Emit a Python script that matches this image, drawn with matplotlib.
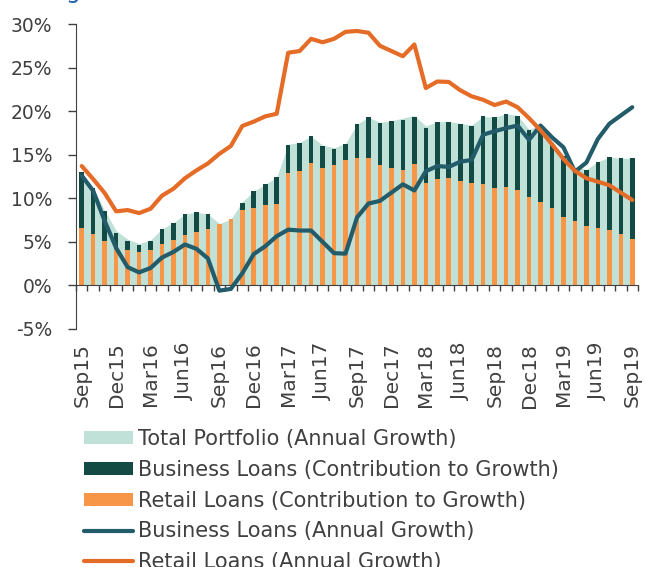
import numpy as np
import matplotlib
matplotlib.use("Agg")
import matplotlib.pyplot as plt
import matplotlib.transforms as mtransforms
from matplotlib.patches import Patch
from matplotlib.lines import Line2D

#### Datos (Sep15 - Sep19, mensual) ####
tick_labels = ["Sep15", "Dec15", "Mar16", "Jun16", "Sep16", "Dec16", "Mar17", "Jun17", "Sep17",
               "Dec17", "Mar18", "Jun18", "Sep18", "Dec18", "Mar19", "Jun19", "Sep19"]

total_growth = [13.0, 11.2, 8.6, 6.3, 5.3, 4.8, 5.2, 6.5, 7.2, 8.2, 8.4, 8.2,
                7.1, 7.6, 9.6, 10.8, 11.6, 12.4, 16.2, 16.4, 17.1, 16.1, 15.8, 16.3,
                18.5, 19.3, 18.7, 18.9, 19.2, 19.5, 18.3, 18.8, 18.8, 18.6, 18.4, 19.4,
                19.3, 19.7, 19.5, 17.9, 18.4, 16.5, 15.0, 13.6, 13.3, 14.2, 14.7, 14.6, 14.6]

retail_contrib = [6.6, 5.85, 5.1, 4.2, 4.05, 3.85, 4.1, 4.8, 5.25, 5.75, 6.15, 6.5,
                  7.1, 7.6, 8.6, 8.85, 9.2, 9.4, 12.85, 13.15, 14.0, 13.5, 13.8, 14.4,
                  14.6, 14.6, 13.85, 13.45, 13.2, 13.9, 11.8, 12.25, 12.35, 11.95, 11.7, 11.6,
                  11.15, 11.35, 10.9, 10.2, 9.55, 8.85, 7.9, 7.35, 6.8, 6.6, 6.4, 5.85, 5.35]

business_contrib = [6.4, 5.3, 3.45, 1.85, 1.1, 0.8, 1.0, 1.7, 1.95, 2.45, 2.25, 1.65,
                    0.0, 0.0, 0.9, 1.95, 2.4, 3.0, 3.3, 3.2, 3.1, 2.5, 1.9, 1.8,
                    3.9, 4.7, 4.75, 5.4, 5.8, 5.4, 6.3, 6.55, 6.35, 6.55, 6.6, 7.8,
                    8.15, 8.35, 8.55, 7.65, 8.85, 7.5, 7.0, 6.15, 6.4, 7.55, 8.3, 8.75, 9.25]

business_growth = [12.6, 10.85, 7.4, 4.3, 2.1, 1.5, 2.0, 3.2, 3.85, 4.7, 4.2, 3.1,
                   -0.6, -0.4, 1.4, 3.6, 4.5, 5.65, 6.4, 6.3, 6.3, 5.0, 3.7, 3.65,
                   7.8, 9.4, 9.7, 10.65, 11.6, 10.9, 13.1, 13.7, 13.6, 14.2, 14.4, 17.3,
                   17.7, 18.05, 18.35, 16.7, 18.35, 17.0, 15.85, 13.05, 14.1, 16.8, 18.55, 19.5, 20.45]

retail_growth = [13.7, 12.2, 10.6, 8.5, 8.65, 8.3, 8.8, 10.3, 11.1, 12.3, 13.2, 14.0,
                 15.1, 16.0, 18.3, 18.8, 19.4, 19.7, 26.7, 26.9, 28.3, 27.9, 28.3, 29.1,
                 29.2, 29.0, 27.5, 26.9, 26.3, 27.65, 22.65, 23.4, 23.35, 22.4, 21.7, 21.3,
                 20.7, 21.1, 20.45, 19.2, 17.8, 16.2, 14.5, 13.15, 12.3, 11.9, 11.5, 10.65, 9.8]

y_ticks = [-5, 0, 5, 10, 15, 20, 25, 30]
y_labels = ["-5%", "0%", "5%", "10%", "15%", "20%", "25%", "30%"]

#### Colores ####
c_total = '#BFE1D7'
c_bus = '#134A44'
c_ret = '#F79646'
c_bus_line = '#225B6A'
c_ret_line = '#E46C27'
c_text = '#404040'

plt.rcParams['font.family'] = ['DejaVu Sans']
plt.rcParams['font.size'] = 13.5

x = np.arange(len(total_growth))

fig = plt.figure(figsize=(6.46, 5.67), dpi=100)
ax = fig.add_axes([76 / 646, 1 - 329 / 567, (638 - 76) / 646, (329 - 24) / 567])

ax.fill_between(x, 0, total_growth, color=c_total, linewidth=0, zorder=1)
ax.bar(x, retail_contrib, width=0.4, color=c_ret, zorder=2)
ax.bar(x, business_contrib, width=0.4, bottom=retail_contrib, color=c_bus, zorder=2)
ax.plot(x, business_growth, color=c_bus_line, linewidth=3, solid_capstyle='round',
        solid_joinstyle='round', zorder=3)
ax.plot(x, retail_growth, color=c_ret_line, linewidth=3, solid_capstyle='round',
        solid_joinstyle='round', zorder=4)

ax.set_xlim(-0.5, len(x) - 0.5)
ax.set_ylim(-5, 30)
ax.set_yticks(y_ticks)
ax.set_yticklabels(y_labels, color=c_text)
ax.tick_params(axis='y', direction='out', length=6, width=1, color='#404040', pad=11)

#### Eje x en cero, marcas entre categorias ####
ax.spines['top'].set_visible(False)
ax.spines['right'].set_visible(False)
ax.spines['bottom'].set_position(('data', 0))
ax.spines['bottom'].set_color('#404040')
ax.spines['left'].set_color('#404040')
ax.set_xticks(np.arange(-0.5, len(x), 1))
ax.set_xticklabels([])
ax.tick_params(axis='x', direction='out', length=4.5, width=1, color='#404040')

trans = mtransforms.blended_transform_factory(ax.transData, ax.transAxes)
for k, lab in enumerate(tick_labels):
    ax.text(3 * k, -0.045, lab, rotation=90, ha='center', va='top', color=c_text,
            fontsize=14.5, transform=trans)

#### Leyenda ####
handles = [
    Patch(facecolor=c_total, edgecolor='none'),
    Patch(facecolor=c_bus, edgecolor='none'),
    Patch(facecolor=c_ret, edgecolor='none'),
    Line2D([0], [0], color=c_bus_line, linewidth=3, solid_capstyle='round'),
    Line2D([0], [0], color=c_ret_line, linewidth=3, solid_capstyle='round'),
]
labels = [
    'Total Portfolio (Annual Growth)',
    'Business Loans (Contribution to Growth)',
    'Retail Loans (Contribution to Growth)',
    'Business Loans (Annual Growth)',
    'Retail Loans (Annual Growth)',
]
leg = fig.legend(handles, labels, loc='upper left', bbox_to_anchor=(84 / 646, 1 - 429 / 567),
                 frameon=False, fontsize=15, handlelength=2.35, handleheight=0.58,
                 handletextpad=0.24, labelspacing=0.52, borderaxespad=0, borderpad=0)
for t in leg.get_texts():
    t.set_color(c_text)

#### Titulo recortado ####
fig.text(66 / 646, 1.003, 'g', color='#2563AE', fontsize=17, ha='left', va='baseline')

fig.savefig('out.png', dpi=100)
